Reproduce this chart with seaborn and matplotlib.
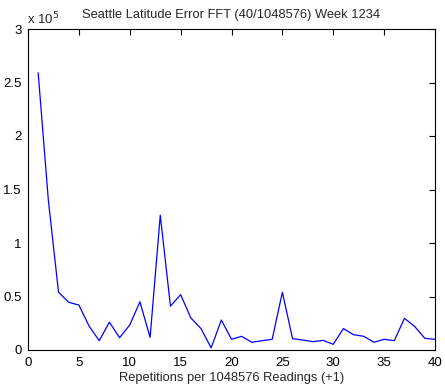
import matplotlib
matplotlib.use("Agg")
import matplotlib.pyplot as plt
import seaborn as sns
import pandas as pd
from matplotlib.ticker import FuncFormatter

x_vals = list(range(1, 41))
y_vals = [2.59, 1.40, 0.54, 0.446, 0.42, 0.224, 0.087, 0.26, 0.115, 0.234,
          0.45, 0.118, 1.26, 0.41, 0.517, 0.30, 0.20, 0.02, 0.28, 0.10,
          0.128, 0.072, 0.087, 0.10, 0.54, 0.106, 0.093, 0.078, 0.09, 0.053,
          0.20, 0.143, 0.128, 0.072, 0.10, 0.087, 0.296, 0.22, 0.109, 0.10]
y_vals = [v * 1e5 for v in y_vals]

title = "Seattle Latitude Error FFT (40/1048576) Week 1234"
xlabel = "Repetitions per 1048576 Readings (+1)"
x_ticks = [0, 5, 10, 15, 20, 25, 30, 35, 40]
y_ticks = [0, 0.5e5, 1e5, 1.5e5, 2e5, 2.5e5, 3e5]

sns.set_theme(style="white")
plt.rcParams['font.family'] = ['Liberation Sans', 'DejaVu Sans']

df = pd.DataFrame({"x": x_vals, "y": y_vals})

fig = plt.figure(figsize=(4.45, 3.92), dpi=100)
ax = fig.add_axes([28/445, 42/392, (435-28)/445, (350-29)/392])
sns.lineplot(data=df, x="x", y="y", ax=ax, color="#0000ff", linewidth=0.9)

ax.set_xlim(0, 40)
ax.set_ylim(0, 3e5)
ax.set_xticks(x_ticks)
ax.set_yticks(y_ticks)
ax.yaxis.set_major_formatter(FuncFormatter(lambda v, p: ("%g" % (v / 1e5))))
ax.tick_params(direction="in", top=True, right=True, length=4, width=0.8,
               labelsize=9.5, colors="black")
ax.tick_params(axis="x", pad=5)
ax.tick_params(axis="y", pad=4.5)
for s in ax.spines.values():
    s.set_color("black")
    s.set_linewidth(0.8)
ax.set_xlabel(xlabel, fontsize=9.3, labelpad=2)
ax.set_ylabel("")
ax.set_title(title, fontsize=9.3, pad=8)
fig.text(27/445, 1 - 19/392, "x 10$^5$", fontsize=9.5, ha="left", va="center")

fig.savefig("out.png", dpi=100)
